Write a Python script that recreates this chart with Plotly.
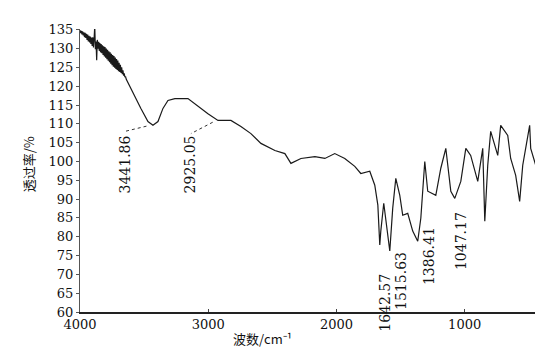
import numpy as np
import plotly.graph_objects as go

# ---- data (wavenumber cm-1, transmittance %) ----
wavenumber = [
    4000, 3995, 3990, 3985, 3980, 3975, 3970, 3965, 3960, 3955, 3950, 3945,
    3940, 3935, 3930, 3925, 3920, 3915, 3910, 3905, 3900, 3895, 3890, 3885,
    3880, 3875, 3870, 3865, 3860, 3855, 3850, 3845, 3840, 3835, 3830, 3825,
    3820, 3815, 3810, 3805, 3800, 3795, 3790, 3785, 3780, 3775, 3770, 3765,
    3760, 3755, 3750, 3745, 3740, 3735, 3730, 3725, 3720, 3715, 3710, 3705,
    3700, 3695, 3690, 3685, 3680, 3675, 3670, 3665, 3660, 3655, 3650, 3645,
    3640, 3630,
    3571, 3525, 3470, 3431, 3392, 3353, 3314, 3260, 3158, 3080, 3002, 2924,
    2823, 2745, 2667, 2589, 2480, 2402, 2355, 2277, 2168, 2090, 2013, 1935,
    1857, 1810, 1740, 1701, 1677, 1662, 1654, 1631, 1584, 1561, 1537, 1506,
    1483, 1444, 1405, 1366, 1342, 1311, 1288, 1225, 1186, 1147, 1108, 1077,
    1030, 991, 953, 898, 859, 843, 820, 797, 742, 719, 664, 641, 602, 571,
    547, 493, 485, 446, 415, 380, 355,
]
transmittance = [
    134.9, 134.1, 134.7, 133.8, 134.6, 133.5, 134.3, 133.0, 134.2, 132.8, 133.9, 132.3,
    133.7, 131.9, 133.4, 131.6, 133.2, 131.2, 132.9, 130.7, 133.0, 130.3, 132.6, 136.0,
    129.8, 131.9, 126.9, 132.3, 130.0, 131.8, 129.4, 131.5, 129.0, 131.2, 128.8, 130.9,
    128.3, 130.6, 127.9, 130.4, 127.6, 130.0, 127.2, 129.7, 126.8, 129.3, 126.4, 129.0,
    126.0, 128.6, 125.6, 128.3, 125.2, 128.0, 124.9, 127.6, 124.6, 127.2, 124.3, 126.8,
    124.0, 126.2, 123.8, 125.7, 123.5, 125.0, 123.2, 124.2, 122.8, 123.4, 122.4, 122.6,
    121.9, 121.2,
    117.5, 114.1, 110.6, 109.6, 110.6, 114.1, 116.2, 116.7, 116.7, 114.6, 112.7, 110.9,
    110.9, 109.3, 107.4, 104.8, 102.9, 102.1, 99.5, 100.8, 101.3, 100.8, 102.1, 100.8,
    98.7, 96.8, 97.4, 93.7, 88.4, 77.8, 81.5, 88.9, 76.2, 87.6, 95.5, 91.0,
    85.7, 86.2, 81.5, 78.8, 84.9, 100.0, 92.1, 91.0, 98.2, 103.5, 92.1, 90.2,
    94.7, 103.5, 101.6, 94.7, 103.5, 84.1, 99.0, 108.0, 101.6, 109.6, 106.9, 100.8, 96.3, 89.4,
    99.0, 109.6, 103.5, 99.0, 96.3, 88.6, 86.0,
]

peak_labels = ["3441.86", "2925.05", "1642.57", "1515.63", "1386.41", "1047.17"]
peak_wn = [3441.86, 2925.05, 1642.57, 1515.63, 1386.41, 1047.17]

x_ticks = [4000, 3000, 2000, 1000]
y_ticks = [135, 130, 125, 120, 115, 110, 105, 100, 95, 90, 85, 80, 75, 70, 65, 60]

# ---- placement of the peak labels (layout only) ----
label_x = [3649, 3135, 1623, 1498, 1272, 1030]
label_y = [99.2, 99.2, 62.4, 68.2, 74.8, 78.8]
leader = [True, True, False, False, False, False]
label_top = [108.0, 107.4]

wn_arr = np.array(wavenumber)
tr_arr = np.array(transmittance)
order = np.argsort(wn_arr)

fig = go.Figure()
fig.add_trace(go.Scatter(
    x=wavenumber, y=transmittance, mode="lines",
    line=dict(color="#1a1a1a", width=1.2), hoverinfo="skip", showlegend=False,
))

# leader lines from the curve to the first two labels
for i, lab in enumerate(peak_labels):
    if leader[i]:
        yv = float(np.interp(peak_wn[i], wn_arr[order], tr_arr[order]))
        fig.add_trace(go.Scatter(
            x=[peak_wn[i] + 40, label_x[i]], y=[yv - 0.5, label_top[i]],
            mode="lines", line=dict(color="#333", width=1, dash="dot"),
            hoverinfo="skip", showlegend=False,
        ))

for i, lab in enumerate(peak_labels):
    fig.add_annotation(
        x=label_x[i], y=label_y[i], text=lab, textangle=-90, showarrow=False,
        font=dict(family="DejaVu Serif", size=14, color="#111"),
        xanchor="center", yanchor="middle",
    )

# right edge segment where the trace meets the frame
fig.add_shape(type="line", xref="paper", x0=1, x1=1, yref="y",
              y0=60, y1=transmittance[-1], line=dict(color="#222", width=1.5))

fig.update_xaxes(
    range=[4000, 350], tickvals=x_ticks, ticktext=[str(v) for v in x_ticks],
    showgrid=False, zeroline=False, showline=True, linecolor="#222", linewidth=1.5,
    ticks="inside", ticklen=3, tickcolor="#444",
    tickfont=dict(family="DejaVu Serif", size=13, color="#111"),
)
fig.update_yaxes(
    range=[60, 135.2], tickvals=y_ticks, ticktext=[str(v) for v in y_ticks],
    showgrid=False, zeroline=False, showline=True, linecolor="#555", linewidth=1,
    ticks="outside", ticklen=3, tickcolor="#555",
    tickfont=dict(family="DejaVu Serif", size=13, color="#111"),
)

fig.add_annotation(xref="paper", yref="paper", x=0.39, y=-0.095, text="波数/cm⁻¹",
                   showarrow=False, xanchor="center", yanchor="middle",
                   font=dict(family="Noto Sans CJK SC", size=13, color="#111"))
fig.add_annotation(xref="paper", yref="paper", x=-0.11, y=0.52, text="透过率/%",
                   textangle=-90, showarrow=False, xanchor="center", yanchor="middle",
                   font=dict(family="Noto Sans CJK SC", size=13, color="#111"))

fig.update_layout(
    width=543, height=348,
    margin=dict(l=72, r=3, t=21, b=44),
    paper_bgcolor="white", plot_bgcolor="white",
)

fig.write_html("out.html")
